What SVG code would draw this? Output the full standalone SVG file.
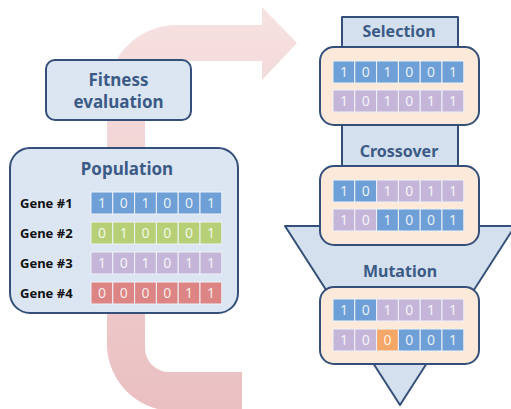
<svg xmlns="http://www.w3.org/2000/svg" width="511" height="409" viewBox="0 0 511 409">
<defs>
<linearGradient id="pinkGrad" x1="0" y1="0" x2="0" y2="1">
<stop offset="0" stop-color="#f7e1e1"/>
<stop offset="1" stop-color="#eabfc1"/>
</linearGradient>
<style>
.title{font-family:"Noto Sans","Liberation Sans",sans-serif;font-weight:bold;fill:#3b5b86;text-anchor:middle}
.gene{font-family:"Noto Sans","Liberation Sans",sans-serif;font-weight:bold;font-size:13px;fill:#111}
.d{font-family:"Noto Sans","Liberation Sans",sans-serif;font-size:14px;fill:#ffffff;fill-opacity:0.85;text-anchor:middle}
.b{fill:#6e9fd6;stroke:#eef2f8;stroke-width:1}
.g{fill:#b7d077;stroke:#eef2f8;stroke-width:1}
.p{fill:#c5b6d9;stroke:#eef2f8;stroke-width:1}
.r{fill:#dc8584;stroke:#eef2f8;stroke-width:1}
.o{fill:#f4a766;stroke:#eef2f8;stroke-width:1}
.blue-box{fill:#dce6f2;stroke:#34507a;stroke-width:2}
.peach{fill:#fde9d9;stroke:#34507a;stroke-width:2}
</style>
</defs>
<rect width="511" height="409" fill="#ffffff"/>

<g id="connectors">
<path id="loop-arrow" fill="url(#pinkGrad)" d="M242,372 H170 A24,24 0 0 1 145,348 V88 A27,27 0 0 1 172,61 H262 V80 L297,43 L262,7 V25 H177 A70,70 0 0 0 107,95 V345 A67,67 0 0 0 174,411 H242 Z"/>
</g>

<g id="pipeline">
<path d="M342,17 H458 V226 H515 L400,405 L285,226 H342 Z" fill="#d4e0ee" stroke="#34507a" stroke-width="2" stroke-linejoin="round"/>
</g>

<g id="fitness">
<rect class="blue-box" x="46" y="60" width="145" height="60" rx="9"/>
<text class="title" x="118.5" y="86" font-size="17">Fitness</text>
<text class="title" x="118.5" y="108" font-size="17">evaluation</text>
</g>

<g id="population">
<rect class="blue-box" x="10" y="148" width="228" height="165" rx="20"/>
<text class="title" x="127" y="175" font-size="17">Population</text>
<text class="gene" x="20" y="208">Gene #1</text>
<text class="gene" x="20" y="238">Gene #2</text>
<text class="gene" x="20" y="268">Gene #3</text>
<text class="gene" x="20" y="298">Gene #4</text>
<g>
<rect class="b" x="91" y="192" width="21.8" height="22"/><rect class="b" x="112.8" y="192" width="21.8" height="22"/><rect class="b" x="134.6" y="192" width="21.8" height="22"/><rect class="b" x="156.4" y="192" width="21.8" height="22"/><rect class="b" x="178.2" y="192" width="21.8" height="22"/><rect class="b" x="200" y="192" width="21.8" height="22"/>
<text class="d" y="208"><tspan x="102">1</tspan><tspan x="123.7">0</tspan><tspan x="145.5">1</tspan><tspan x="167.3">0</tspan><tspan x="189.1">0</tspan><tspan x="210.9">1</tspan></text>
</g>
<g>
<rect class="g" x="91" y="222" width="21.8" height="22"/><rect class="g" x="112.8" y="222" width="21.8" height="22"/><rect class="g" x="134.6" y="222" width="21.8" height="22"/><rect class="g" x="156.4" y="222" width="21.8" height="22"/><rect class="g" x="178.2" y="222" width="21.8" height="22"/><rect class="g" x="200" y="222" width="21.8" height="22"/>
<text class="d" y="238"><tspan x="102">0</tspan><tspan x="123.7">1</tspan><tspan x="145.5">0</tspan><tspan x="167.3">0</tspan><tspan x="189.1">0</tspan><tspan x="210.9">1</tspan></text>
</g>
<g>
<rect class="p" x="91" y="252" width="21.8" height="22"/><rect class="p" x="112.8" y="252" width="21.8" height="22"/><rect class="p" x="134.6" y="252" width="21.8" height="22"/><rect class="p" x="156.4" y="252" width="21.8" height="22"/><rect class="p" x="178.2" y="252" width="21.8" height="22"/><rect class="p" x="200" y="252" width="21.8" height="22"/>
<text class="d" y="268"><tspan x="102">1</tspan><tspan x="123.7">0</tspan><tspan x="145.5">1</tspan><tspan x="167.3">0</tspan><tspan x="189.1">1</tspan><tspan x="210.9">1</tspan></text>
</g>
<g>
<rect class="r" x="91" y="282" width="21.8" height="22"/><rect class="r" x="112.8" y="282" width="21.8" height="22"/><rect class="r" x="134.6" y="282" width="21.8" height="22"/><rect class="r" x="156.4" y="282" width="21.8" height="22"/><rect class="r" x="178.2" y="282" width="21.8" height="22"/><rect class="r" x="200" y="282" width="21.8" height="22"/>
<text class="d" y="298"><tspan x="102">0</tspan><tspan x="123.7">0</tspan><tspan x="145.5">0</tspan><tspan x="167.3">0</tspan><tspan x="189.1">1</tspan><tspan x="210.9">1</tspan></text>
</g>
</g>

<g id="selection">
<text class="title" x="399" y="37" font-size="16">Selection</text>
<rect class="peach" x="320" y="47" width="159" height="78" rx="14"/>
<rect class="b" x="333" y="61" width="21.8" height="22"/><rect class="b" x="354.8" y="61" width="21.8" height="22"/><rect class="b" x="376.6" y="61" width="21.8" height="22"/><rect class="b" x="398.4" y="61" width="21.8" height="22"/><rect class="b" x="420.2" y="61" width="21.8" height="22"/><rect class="b" x="442" y="61" width="21.8" height="22"/>
<text class="d" y="77"><tspan x="344">1</tspan><tspan x="365.7">0</tspan><tspan x="387.5">1</tspan><tspan x="409.3">0</tspan><tspan x="431.1">0</tspan><tspan x="452.9">1</tspan></text>
<rect class="p" x="333" y="90" width="21.8" height="22"/><rect class="p" x="354.8" y="90" width="21.8" height="22"/><rect class="p" x="376.6" y="90" width="21.8" height="22"/><rect class="p" x="398.4" y="90" width="21.8" height="22"/><rect class="p" x="420.2" y="90" width="21.8" height="22"/><rect class="p" x="442" y="90" width="21.8" height="22"/>
<text class="d" y="106"><tspan x="344">1</tspan><tspan x="365.7">0</tspan><tspan x="387.5">1</tspan><tspan x="409.3">0</tspan><tspan x="431.1">1</tspan><tspan x="452.9">1</tspan></text>
</g>

<g id="crossover">
<text class="title" x="399" y="157" font-size="16">Crossover</text>
<rect class="peach" x="320" y="166" width="159" height="79" rx="14"/>
<rect class="b" x="333" y="180" width="21.8" height="22"/><rect class="b" x="354.8" y="180" width="21.8" height="22"/><rect class="p" x="376.6" y="180" width="21.8" height="22"/><rect class="p" x="398.4" y="180" width="21.8" height="22"/><rect class="p" x="420.2" y="180" width="21.8" height="22"/><rect class="p" x="442" y="180" width="21.8" height="22"/>
<text class="d" y="196"><tspan x="344">1</tspan><tspan x="365.7">0</tspan><tspan x="387.5">1</tspan><tspan x="409.3">0</tspan><tspan x="431.1">1</tspan><tspan x="452.9">1</tspan></text>
<rect class="p" x="333" y="209" width="21.8" height="22"/><rect class="p" x="354.8" y="209" width="21.8" height="22"/><rect class="b" x="376.6" y="209" width="21.8" height="22"/><rect class="b" x="398.4" y="209" width="21.8" height="22"/><rect class="b" x="420.2" y="209" width="21.8" height="22"/><rect class="b" x="442" y="209" width="21.8" height="22"/>
<text class="d" y="225"><tspan x="344">1</tspan><tspan x="365.7">0</tspan><tspan x="387.5">1</tspan><tspan x="409.3">0</tspan><tspan x="431.1">0</tspan><tspan x="452.9">1</tspan></text>
</g>

<g id="mutation">
<text class="title" x="400" y="277" font-size="16">Mutation</text>
<rect class="peach" x="320" y="287" width="159" height="77" rx="14"/>
<rect class="b" x="333" y="299" width="21.8" height="22"/><rect class="b" x="354.8" y="299" width="21.8" height="22"/><rect class="p" x="376.6" y="299" width="21.8" height="22"/><rect class="p" x="398.4" y="299" width="21.8" height="22"/><rect class="p" x="420.2" y="299" width="21.8" height="22"/><rect class="p" x="442" y="299" width="21.8" height="22"/>
<text class="d" y="315"><tspan x="344">1</tspan><tspan x="365.7">0</tspan><tspan x="387.5">1</tspan><tspan x="409.3">0</tspan><tspan x="431.1">1</tspan><tspan x="452.9">1</tspan></text>
<rect class="p" x="333" y="329" width="21.8" height="22"/><rect class="p" x="354.8" y="329" width="21.8" height="22"/><rect class="o" x="376.6" y="329" width="21.8" height="22"/><rect class="b" x="398.4" y="329" width="21.8" height="22"/><rect class="b" x="420.2" y="329" width="21.8" height="22"/><rect class="b" x="442" y="329" width="21.8" height="22"/>
<text class="d" y="345"><tspan x="344">1</tspan><tspan x="365.7">0</tspan><tspan x="387.5">0</tspan><tspan x="409.3">0</tspan><tspan x="431.1">0</tspan><tspan x="452.9">1</tspan></text>
</g>
</svg>
